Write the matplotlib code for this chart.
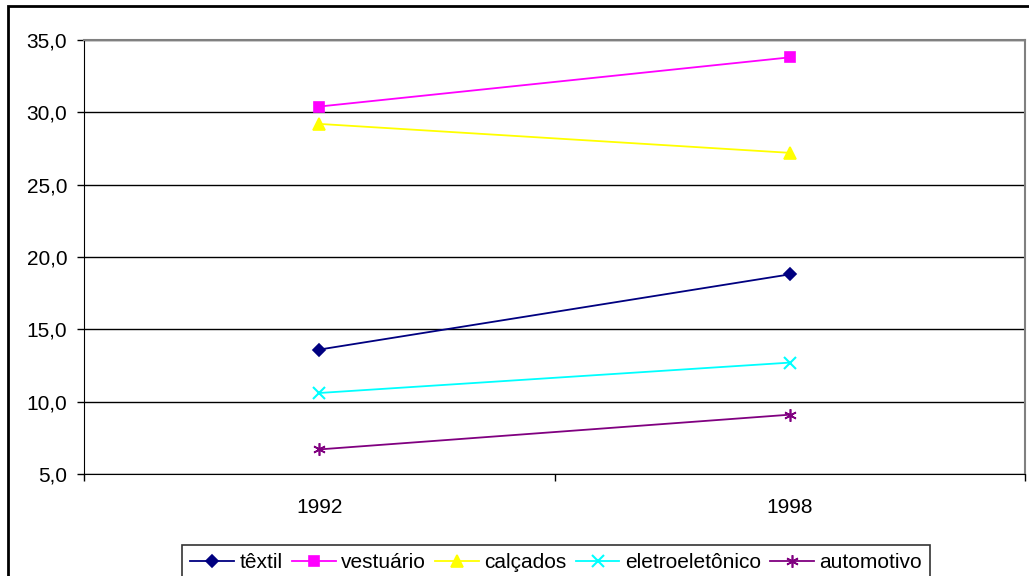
import matplotlib
matplotlib.use("Agg")
import matplotlib.pyplot as plt
from matplotlib.patches import Rectangle
from matplotlib.ticker import FuncFormatter, FixedLocator

plt.rcParams['font.family'] = ['Liberation Sans', 'DejaVu Sans']

years = ["1992", "1998"]
textil = [13.6, 18.8]
vestuario = [30.4, 33.8]
calcados = [29.2, 27.2]
eletro = [10.6, 12.7]
automotivo = [6.7, 9.1]

series = [
    ("têxtil", textil, "#000080", "D", 6),
    ("vestuário", vestuario, "#FF00FF", "s", 7.5),
    ("calçados", calcados, "#FFFF00", "^", 8.5),
    ("eletroeletônico", eletro, "#00FFFF", "x", 8),
    ("automotivo", automotivo, "#800080", (6, 2, 0), 9),
]

FS = 15

fig = plt.figure(figsize=(10.29, 5.76), dpi=100)
ax = fig.add_axes([84 / 1029, 1 - 474 / 576, (1025 - 84) / 1029, (474 - 40) / 576])

x = list(range(len(years)))
for name, vals, color, marker, ms in series:
    ax.plot(x, vals, color=color, marker=marker, markersize=ms, linewidth=1.3,
            markeredgewidth=1.5 if marker == "x" else 1.2, label=name, clip_on=False)

ax.set_xlim(-0.5, len(years) - 0.5)
ax.set_ylim(5, 35)
ax.set_yticks([5, 10, 15, 20, 25, 30, 35])
ax.yaxis.set_major_formatter(FuncFormatter(lambda v, p: f"{v:.1f}".replace(".", ",")))
ax.set_xticks(x)
ax.set_xticklabels(years)
ax.xaxis.set_minor_locator(FixedLocator([-0.5, 0.5, 1.5]))
ax.tick_params(axis="x", which="major", length=0, pad=17, labelsize=FS)
ax.tick_params(axis="x", which="minor", length=5, width=1, color="black")
ax.tick_params(axis="y", length=5, width=1, color="black", labelsize=FS, pad=7)
ax.grid(axis="y", color="black", linewidth=1)
ax.set_axisbelow(True)

for side in ("top", "right"):
    ax.spines[side].set_color("#808080")
    ax.spines[side].set_linewidth(1.5)
ax.spines["left"].set_color("black")
ax.spines["bottom"].set_color("black")

leg = fig.legend(loc="lower center", bbox_to_anchor=(556 / 1029, -0.008), ncol=5,
                 frameon=True, fancybox=False, edgecolor="black", fontsize=FS,
                 handlelength=2.1, handletextpad=0.25, columnspacing=0.45,
                 borderpad=0.4, borderaxespad=0)
leg.get_frame().set_linewidth(1.2)

fig.patches.append(Rectangle((8 / 1029, -0.1), 1.2, 1 - 6 / 576 + 0.1,
                             transform=fig.transFigure, fill=False,
                             edgecolor="black", linewidth=2))

fig.savefig("out.png", dpi=100)
